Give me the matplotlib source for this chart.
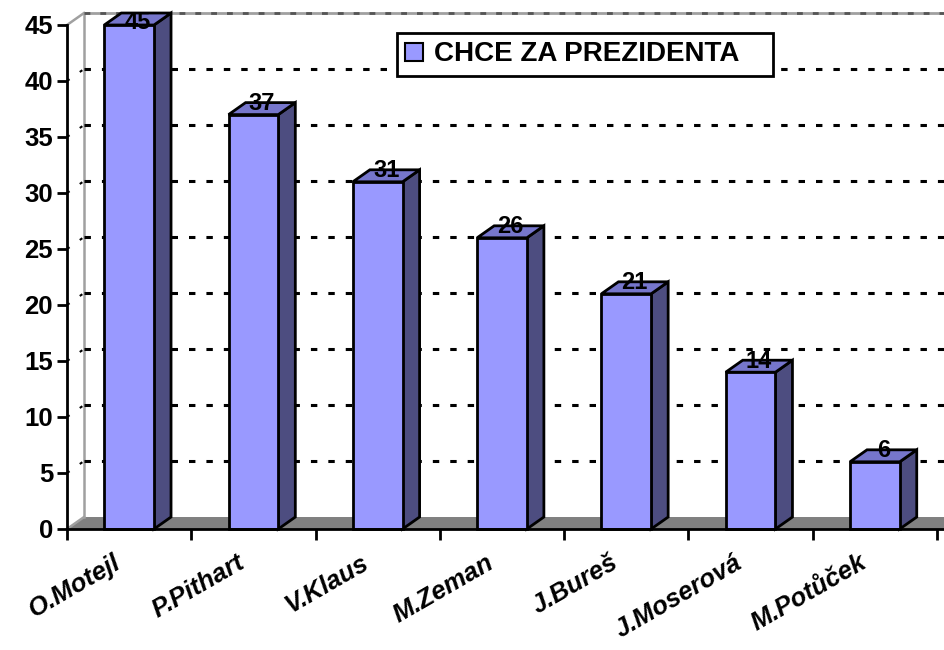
import matplotlib
matplotlib.use('Agg')
import matplotlib.pyplot as plt
from matplotlib.patches import Polygon, Patch

# data
names = ['O.Motejl', 'P.Pithart', 'V.Klaus', 'M.Zeman', 'J.Bureš', 'J.Moserová', 'M.Potůček']
values = [45, 37, 31, 26, 21, 14, 6]
series_name = 'CHCE ZA PREZIDENTA'
y_ticks = [0, 5, 10, 15, 20, 25, 30, 35, 40, 45]

FRONT = '#9999FF'
SIDE = '#4D4D80'
TOP = '#7676CC'
FLOOR = '#808080'
WALL = '#A0A0A0'

plt.rcParams['font.family'] = ['Liberation Sans', 'DejaVu Sans']

fig = plt.figure(figsize=(9.44, 6.5), dpi=100)
ax = fig.add_axes([67 / 944, 121 / 650, 870 / 944, 504 / 650])
n = len(values)
ymax = y_ticks[-1]
ax.set_xlim(0, n)
ax.set_ylim(0, ymax)
ax.patch.set_visible(False)
for s in ['top', 'right', 'bottom']:
    ax.spines[s].set_visible(False)
ax.spines['left'].set_linewidth(2)
ax.spines['left'].set_zorder(6)

# depth of the fake 3d box, in data units
dx = 0.137
dy = 1.07
xend = n + 0.3

# floor
ax.add_patch(Polygon([(0, 0), (xend, 0), (xend + dx, dy), (dx, dy)],
                     closed=True, facecolor=FLOOR, edgecolor='none',
                     clip_on=False, zorder=1))
ax.plot([0, xend], [0, 0], color='black', lw=2, clip_on=False, zorder=6)

# side wall + back wall edges
ax.plot([0, dx], [0, dy], color=WALL, lw=1.8, clip_on=False, zorder=1)
ax.plot([dx, dx], [dy, ymax + dy], color=WALL, lw=1.8, clip_on=False, zorder=1)
ax.plot([0, dx], [ymax, ymax + dy], color=WALL, lw=1.8, clip_on=False, zorder=1)
ax.plot([dx, xend], [ymax + dy, ymax + dy], color=WALL, lw=2, clip_on=False, zorder=1)
ax.plot([dx, xend], [ymax + dy, ymax + dy], color='#555555', lw=2,
        ls=(0, (2.1, 3.6)), clip_on=False, zorder=1.5)

# dotted gridlines on the walls
dash = (0, (2.1, 3.6))
for yv in y_ticks[1:-1]:
    ax.plot([dx, xend], [yv + dy, yv + dy], color='black', lw=2.2, ls=dash,
            clip_on=False, zorder=2)
    ax.plot([0, dx], [yv, yv + dy], color='black', lw=1.5, ls=(0, (1.5, 6)),
            clip_on=False, zorder=2)

# bars
for i, v in enumerate(values):
    x0, x1 = i + 0.3, i + 0.7
    kw = dict(closed=True, edgecolor='black', lw=2, joinstyle='miter',
              clip_on=False, zorder=3)
    ax.add_patch(Polygon([(x1, 0), (x1 + dx, dy), (x1 + dx, v + dy), (x1, v)],
                         facecolor=SIDE, **kw))
    ax.add_patch(Polygon([(x0, v), (x1, v), (x1 + dx, v + dy), (x0 + dx, v + dy)],
                         facecolor=TOP, **kw))
    ax.add_patch(Polygon([(x0, 0), (x1, 0), (x1, v), (x0, v)],
                         facecolor=FRONT, **kw))
    ax.text(i + 0.5 + dx / 2, min(v + 1.0, ymax + 0.2), str(v), ha='center',
            va='center', fontsize=17, fontweight='bold', zorder=5)

# axes ticks
ax.set_yticks(y_ticks)
ax.set_yticklabels([str(t) for t in y_ticks], fontsize=18.5, fontweight='bold')
ax.tick_params(axis='y', direction='out', length=7, width=2, pad=3)
ax.set_xticks(range(n + 1))
ax.set_xticklabels([])
ax.tick_params(axis='x', direction='out', length=8, width=2)

for i, name in enumerate(names):
    ax.text(i + 0.37, -1.9, name, rotation=30, ha='right', va='top',
            rotation_mode='anchor', fontsize=18.5, fontweight='bold',
            fontstyle='italic', zorder=5)

# legend, stretched over the box of the original
lx0, ly0 = 397 / 944, 1 - 82 / 650
lw_, lh_ = 376 / 944, 49 / 650
leg = fig.legend(handles=[Patch(facecolor=FRONT, edgecolor='black', lw=1.5)],
                 labels=[series_name], loc='upper left', mode='expand',
                 bbox_to_anchor=(lx0, ly0, lw_, lh_),
                 prop={'size': 20, 'weight': 'bold'}, fancybox=False,
                 edgecolor='black', framealpha=1, borderpad=0.3,
                 handlelength=0.62, handleheight=0.62, handletextpad=0.4,
                 borderaxespad=0)
leg.get_frame().set_linewidth(2)

fig.savefig('out.png', dpi=100)
